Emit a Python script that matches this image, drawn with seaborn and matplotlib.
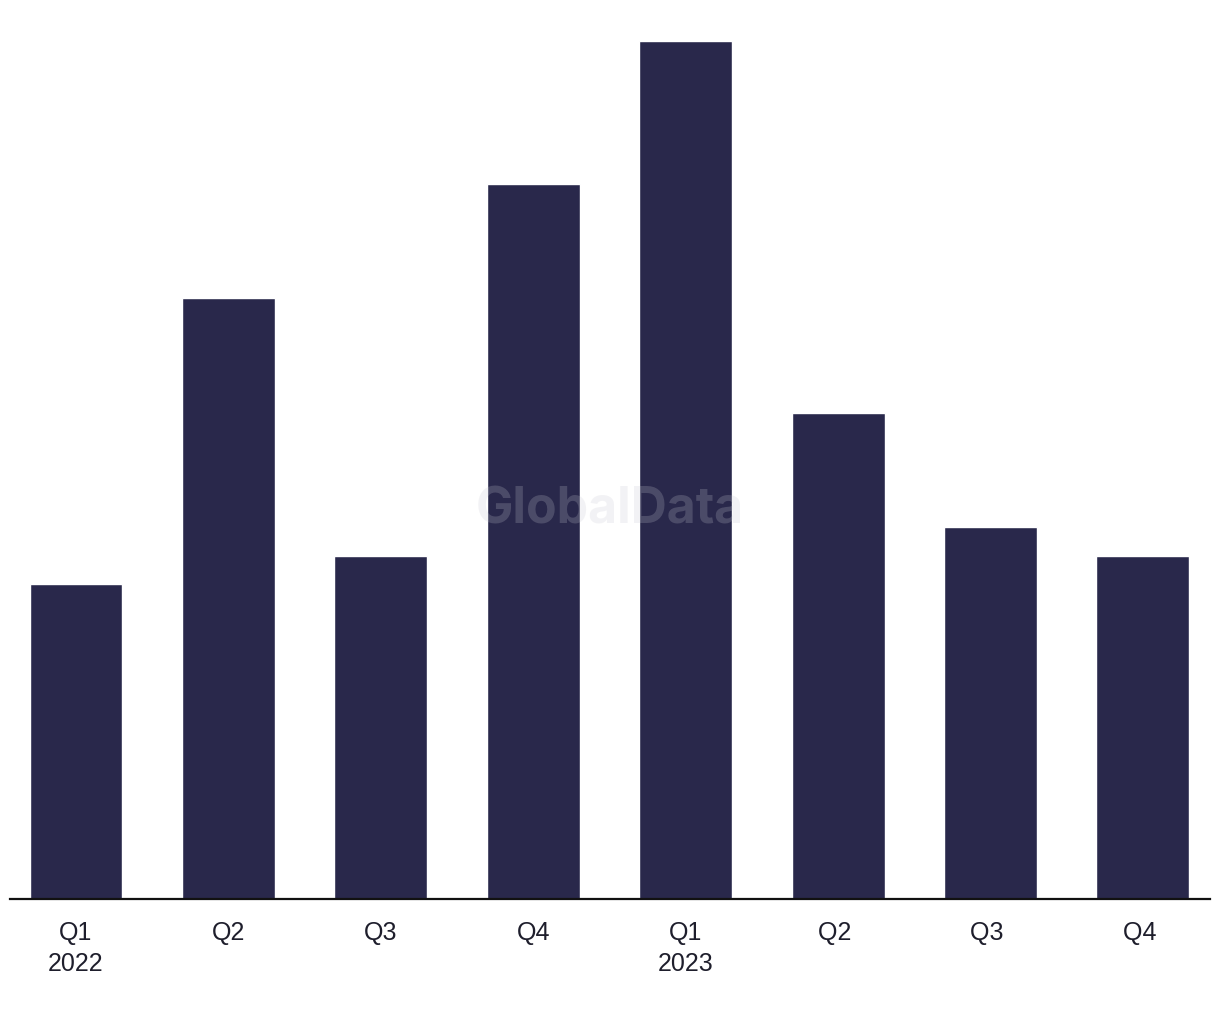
import matplotlib
matplotlib.use('Agg')
import matplotlib.pyplot as plt
import seaborn as sns
import pandas as pd

quarters = ['Q1\n2022', 'Q2', 'Q3', 'Q4', 'Q1\n2023', 'Q2 ', 'Q3 ', 'Q4 ']
values = [11, 21, 12, 25, 30, 17, 13, 12]

bar_color = '#29284b'
text_color = '#1e1e2c'

sns.set_style('white')
plt.rcParams['font.family'] = ['Liberation Sans', 'DejaVu Sans']

df = pd.DataFrame({'quarter': quarters, 'value': values})

fig = plt.figure(figsize=(12.2, 10.2), dpi=100)
ax = fig.add_axes([10 / 1220, 120 / 1020, 1200 / 1220, 858 / 1020])

sns.barplot(data=df, x='quarter', y='value', color=bar_color, width=0.61,
            saturation=1, ax=ax)

ax.set_xlim(-0.433, 7.44)
ax.set_ylim(0, 30)
ax.set_xlabel('')
ax.set_ylabel('')
ax.set_yticks([])
for s in ['top', 'right', 'left']:
    ax.spines[s].set_visible(False)
ax.spines['bottom'].set_color('#111111')
ax.spines['bottom'].set_linewidth(1.6)
ax.tick_params(axis='x', length=0, pad=15, labelsize=18, colors=text_color)
for label in ax.get_xticklabels():
    label.set_linespacing(1.4)

# watermark
fig.text(0.5, 0.5, 'GlobalData', ha='center', va='center', fontsize=36,
         fontweight='bold', color='#c8c8d2', alpha=0.22, family='Inter')

fig.savefig('out.png', dpi=100)
